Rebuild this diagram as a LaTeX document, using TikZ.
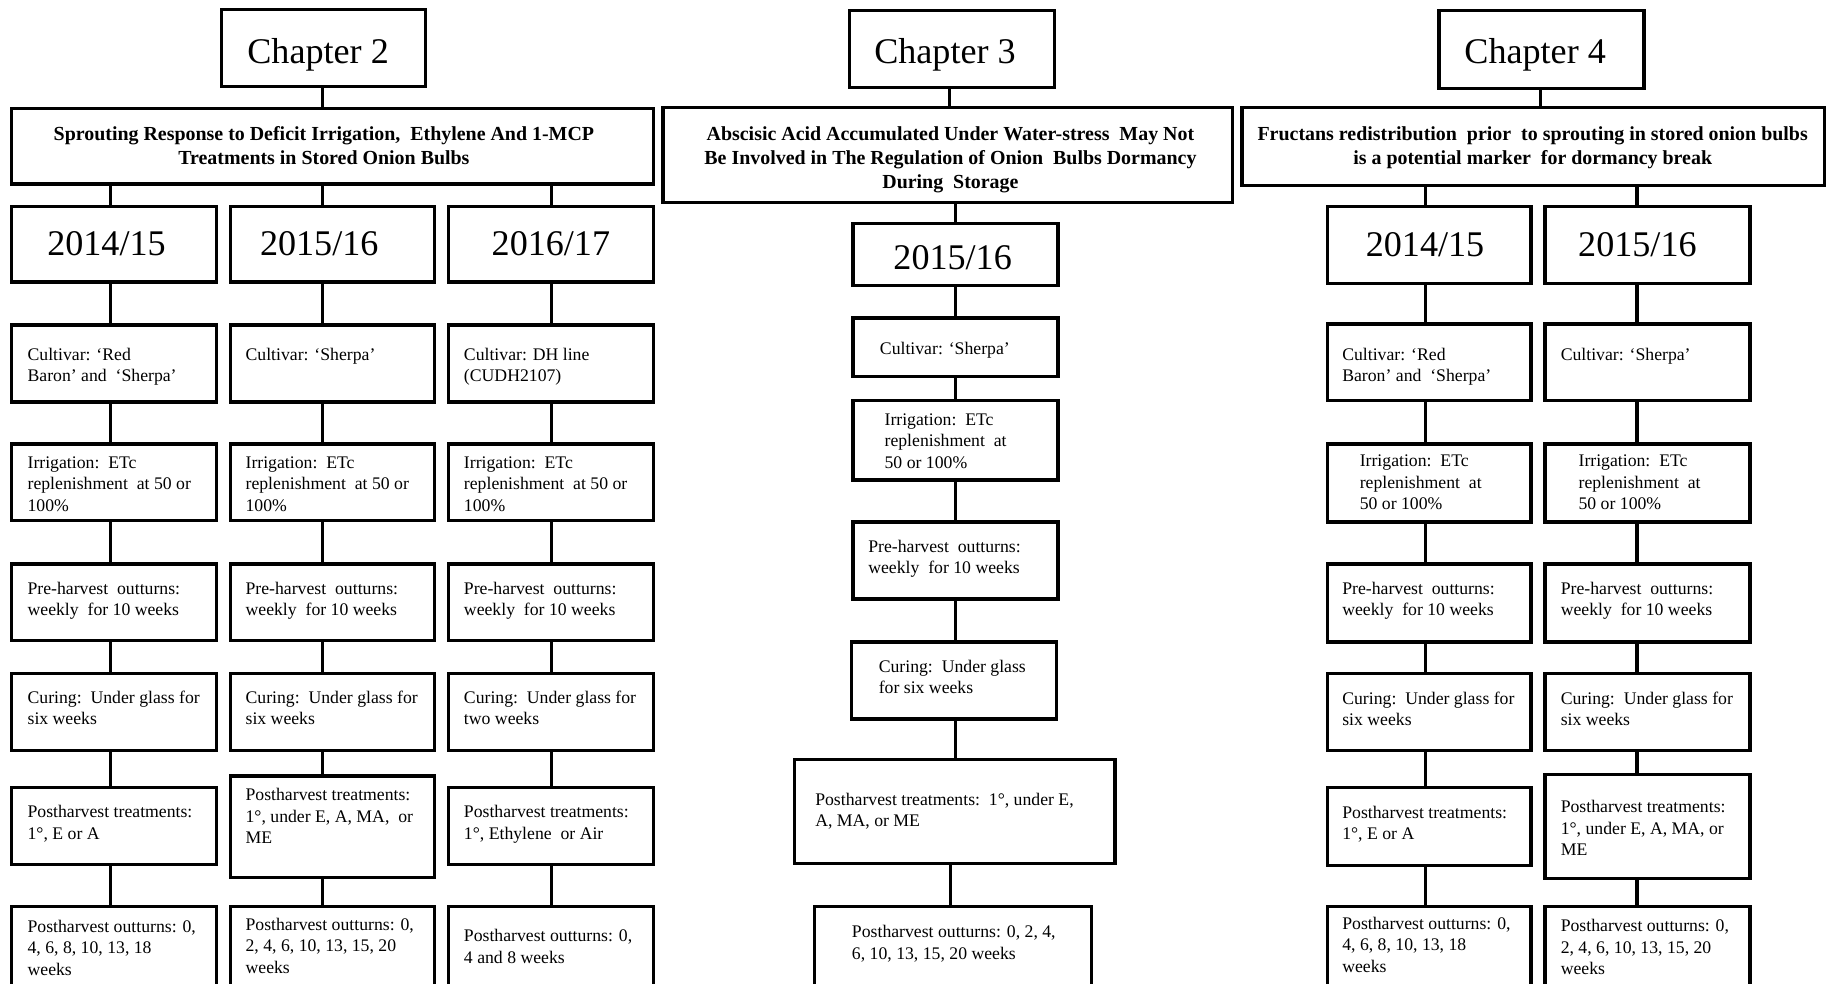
\documentclass[tikz,border=0pt]{standalone}
\usepackage{fontspec}
\setmainfont{Liberation Serif}
\newcommand\bx[5]{\node[bx, minimum width={(#4)-(#2)}, minimum height={(#5)-(#3)}] (#1) at ({((#2)+(#4))/2},{((#3)+(#5))/2}) {};}
% name, x, first baseline, number of lines, text (base anchor is the last line)
\newcommand\tx[5]{\node[tx] (#1) at (#2,{(#3)+((#4)-1)*18.5}) {#5};}
\begin{document}
\begin{tikzpicture}[x=1pt,y=-1pt,
  bx/.style={draw=black, line width=2.8pt, inner sep=0pt, outer sep=0pt},
  ln/.style={line width=2.8pt},
  tx/.style={inner sep=0pt, align=left, anchor=base west, font=\fontsize{15.2}{18.5}\selectfont},
  big/.style={inner sep=0pt, anchor=base, font=\fontsize{31}{31}\selectfont},
  ttl/.style={inner sep=0pt, anchor=base, align=center, font=\bfseries\fontsize{17.1}{20.4}\selectfont}]
\fill[white] (0,0) rectangle (1568,844);
\useasboundingbox (0,0) rectangle (1568,844);
\clip (0,0) rectangle (1568,844);

% connector x positions
\coordinate (xa) at (94.6,0);
\coordinate (xb) at (276.6,0);
\coordinate (xc) at (473.6,0);
\coordinate (xk) at (815,0);
\coordinate (xm) at (820,0);
\coordinate (xn) at (816,0);
\coordinate (xp) at (1322,0);
\coordinate (xq) at (1223.3,0);
\coordinate (xr) at (1405,0);

% ---------------- Chapter 2 ----------------
\bx{c2}{190}{8}{365}{74}
\bx{t2}{10}{93}{561}{158}
\bx{y2a}{10}{177}{186}{242}
\bx{y2b}{198}{177}{373}{242}
\bx{y2c}{385}{177}{561}{242}
\bx{cu2a}{10}{279}{186}{345}
\bx{cu2b}{198}{279}{373}{345}
\bx{cu2c}{385}{279}{561}{345}
\bx{ir2a}{10}{381}{186}{447}
\bx{ir2b}{198}{381}{373}{447}
\bx{ir2c}{385}{381}{561}{447}
\bx{ph2a}{10}{484}{186}{550}
\bx{ph2b}{198}{484}{373}{550}
\bx{ph2c}{385}{484}{561}{550}
\bx{cr2a}{10}{578}{186}{644}
\bx{cr2b}{198}{578}{373}{644}
\bx{cr2c}{385}{578}{561}{644}
\bx{pt2a}{10}{676}{186}{742}
\bx{pt2b}{198}{666}{373}{753}
\bx{pt2c}{385}{676}{561}{742}
\bx{ot2a}{10}{778}{186}{880}
\bx{ot2b}{198}{778}{373}{880}
\bx{ot2c}{385}{778}{561}{880}

\draw[ln] (c2.south -| xb) -- (t2.north -| xb);
\foreach \c/\xx in {a/xa,b/xb,c/xc}{
  \draw[ln] (t2.south -| \xx) -- (y2\c.north -| \xx);
  \draw[ln] (y2\c.south -| \xx) -- (cu2\c.north -| \xx);
  \draw[ln] (cu2\c.south -| \xx) -- (ir2\c.north -| \xx);
  \draw[ln] (ir2\c.south -| \xx) -- (ph2\c.north -| \xx);
  \draw[ln] (ph2\c.south -| \xx) -- (cr2\c.north -| \xx);
  \draw[ln] (cr2\c.south -| \xx) -- (pt2\c.north -| \xx);
  \draw[ln] (pt2\c.south -| \xx) -- (ot2\c.north -| \xx);
}

\node[big] (c2t) at (273,54.4) {Chapter 2};
\node[ttl] (t2t) at (278,141.4) {Sprouting Response to Deficit Irrigation,\ \ Ethylene And 1-MCP\\Treatments in Stored Onion Bulbs};
\node[big] (y2at) at (91.4,219.7) {2014/15};
\node[big] (y2bt) at (274,219.7) {2015/16};
\node[big] (y2ct) at (472.8,219.7) {2016/17};

\tx{cu2at}{23.5}{309}{2}{Cultivar: ‘Red\\Baron’ and\ \ ‘Sherpa’}
\tx{cu2bt}{210.6}{309}{1}{Cultivar: ‘Sherpa’}
\tx{cu2ct}{398}{309}{2}{Cultivar: DH line\\(CUDH2107)}
\tx{ir2at}{23.5}{402}{3}{Irrigation:\ \ ETc\\replenishment\ \ at 50 or\\100\%}
\tx{ir2bt}{210.6}{402}{3}{Irrigation:\ \ ETc\\replenishment\ \ at 50 or\\100\%}
\tx{ir2ct}{398}{402}{3}{Irrigation:\ \ ETc\\replenishment\ \ at 50 or\\100\%}
\tx{ph2at}{23.5}{510}{2}{Pre-harvest\ \ outturns:\\weekly\ \ for 10 weeks}
\tx{ph2bt}{210.6}{510}{2}{Pre-harvest\ \ outturns:\\weekly\ \ for 10 weeks}
\tx{ph2ct}{398}{510}{2}{Pre-harvest\ \ outturns:\\weekly\ \ for 10 weeks}
\tx{cr2at}{23.5}{603.5}{2}{Curing:\ \ Under glass for\\six weeks}
\tx{cr2bt}{210.6}{603.5}{2}{Curing:\ \ Under glass for\\six weeks}
\tx{cr2ct}{398}{603.5}{2}{Curing:\ \ Under glass for\\two weeks}
\tx{pt2at}{23.5}{702}{2}{Postharvest treatments:\\1°, E or A}
\tx{pt2bt}{210.6}{687}{3}{Postharvest treatments:\\1°, under E, A, MA,\ \ or\\ME}
\tx{pt2ct}{398}{702}{2}{Postharvest treatments:\\1°, Ethylene\ \ or Air}
\tx{ot2at}{23.5}{800}{3}{Postharvest outturns: 0,\\4, 6, 8, 10, 13, 18\\weeks}
\tx{ot2bt}{210.6}{798.5}{3}{Postharvest outturns: 0,\\2, 4, 6, 10, 13, 15, 20\\weeks}
\tx{ot2ct}{398}{808.3}{2}{Postharvest outturns: 0,\\4 and 8 weeks}

% ---------------- Chapter 3 ----------------
\bx{c3}{729}{9}{905}{75}
\bx{t3}{569}{92}{1058}{174}
\bx{y3}{732}{192}{908}{245}
\bx{cu3}{732}{273}{908}{323}
\bx{ir3}{732}{344}{908}{412}
\bx{ph3}{732}{448}{908}{514}
\bx{cr3}{731}{551}{907}{617}
\bx{pt3}{682}{652}{957}{741}
\bx{ot3}{699}{778}{937}{880}

\draw[ln] (c3.south -| xk) -- (t3.north -| xk);
\draw[ln] (t3.south -| xm) -- (y3.north -| xm);
\draw[ln] (y3.south -| xm) -- (cu3.north -| xm);
\draw[ln] (cu3.south -| xm) -- (ir3.north -| xm);
\draw[ln] (ir3.south -| xm) -- (ph3.north -| xm);
\draw[ln] (ph3.south -| xm) -- (cr3.north -| xm);
\draw[ln] (cr3.south -| xm) -- (pt3.north -| xm);
\draw[ln] (pt3.south -| xn) -- (ot3.north -| xn);

\node[big] (c3t) at (811,54.4) {Chapter 3};
\node[ttl] (t3t) at (815.7,161.8) {Abscisic Acid Accumulated Under Water-stress\ \ May Not\\Be Involved in The Regulation of Onion\ \ Bulbs Dormancy\\During\ \ Storage};
\node[big] (y3t) at (817.6,231) {2015/16};
\tx{cu3t}{755}{304}{1}{Cultivar: ‘Sherpa’}
\tx{ir3t}{759}{365}{3}{Irrigation:\ \ ETc\\replenishment\ \ at\\50 or 100\%}
\tx{ph3t}{745}{474}{2}{Pre-harvest\ \ outturns:\\weekly\ \ for 10 weeks}
\tx{cr3t}{754}{577}{2}{Curing:\ \ Under glass\\for six weeks}
\tx{pt3t}{699.5}{691}{2}{Postharvest treatments:\ \ 1°, under E,\\A, MA, or ME}
\tx{ot3t}{731}{804.6}{2}{Postharvest outturns: 0, 2, 4,\\6, 10, 13, 15, 20 weeks}

% ---------------- Chapter 4 ----------------
\bx{c4}{1235}{9}{1411}{76}
\bx{t4}{1066}{92}{1566}{159}
\bx{y4a}{1139}{177}{1314}{243}
\bx{y4b}{1326}{177}{1502}{243}
\bx{cu4a}{1139}{278}{1314}{344}
\bx{cu4b}{1326}{278}{1502}{344}
\bx{ir4a}{1139}{381}{1314}{448}
\bx{ir4b}{1326}{381}{1502}{448}
\bx{ph4a}{1139}{484}{1314}{551}
\bx{ph4b}{1326}{484}{1502}{551}
\bx{cr4a}{1139}{578}{1314}{644}
\bx{cr4b}{1326}{578}{1502}{644}
\bx{pt4a}{1139}{676}{1314}{743}
\bx{pt4b}{1326}{665}{1502}{754}
\bx{ot4a}{1139}{778}{1314}{880}
\bx{ot4b}{1326}{778}{1502}{880}

\draw[ln] (c4.south -| xp) -- (t4.north -| xp);
\foreach \c/\xx in {a/xq,b/xr}{
  \draw[ln] (t4.south -| \xx) -- (y4\c.north -| \xx);
  \draw[ln] (y4\c.south -| \xx) -- (cu4\c.north -| \xx);
  \draw[ln] (cu4\c.south -| \xx) -- (ir4\c.north -| \xx);
  \draw[ln] (ir4\c.south -| \xx) -- (ph4\c.north -| \xx);
  \draw[ln] (ph4\c.south -| \xx) -- (cr4\c.north -| \xx);
  \draw[ln] (cr4\c.south -| \xx) -- (pt4\c.north -| \xx);
  \draw[ln] (pt4\c.south -| \xx) -- (ot4\c.north -| \xx);
}

\node[big] (c4t) at (1317.5,54.4) {Chapter 4};
\node[ttl] (t4t) at (1315.4,141.4) {Fructans redistribution\ \ prior\ \ to sprouting in stored onion bulbs\\is a potential marker\ \ for dormancy break};
\node[big] (y4at) at (1223,220) {2014/15};
\node[big] (y4bt) at (1405.3,220) {2015/16};
\tx{cu4at}{1151.8}{309}{2}{Cultivar: ‘Red\\Baron’ and\ \ ‘Sherpa’}
\tx{cu4bt}{1339.3}{309}{1}{Cultivar: ‘Sherpa’}
\tx{ir4at}{1166.8}{400.6}{3}{Irrigation:\ \ ETc\\replenishment\ \ at\\50 or 100\%}
\tx{ir4bt}{1354.6}{400.6}{3}{Irrigation:\ \ ETc\\replenishment\ \ at\\50 or 100\%}
\tx{ph4at}{1151.8}{510}{2}{Pre-harvest\ \ outturns:\\weekly\ \ for 10 weeks}
\tx{ph4bt}{1339.3}{510}{2}{Pre-harvest\ \ outturns:\\weekly\ \ for 10 weeks}
\tx{cr4at}{1151.8}{604.3}{2}{Curing:\ \ Under glass for\\six weeks}
\tx{cr4bt}{1339.3}{604.3}{2}{Curing:\ \ Under glass for\\six weeks}
\tx{pt4at}{1151.8}{702.2}{2}{Postharvest treatments:\\1°, E or A}
\tx{pt4bt}{1339.3}{697.3}{3}{Postharvest treatments:\\1°, under E, A, MA, or\\ME}
\tx{ot4at}{1151.8}{797.5}{3}{Postharvest outturns: 0,\\4, 6, 8, 10, 13, 18\\weeks}
\tx{ot4bt}{1339.3}{799.5}{3}{Postharvest outturns: 0,\\2, 4, 6, 10, 13, 15, 20\\weeks}
\end{tikzpicture}
\end{document}
